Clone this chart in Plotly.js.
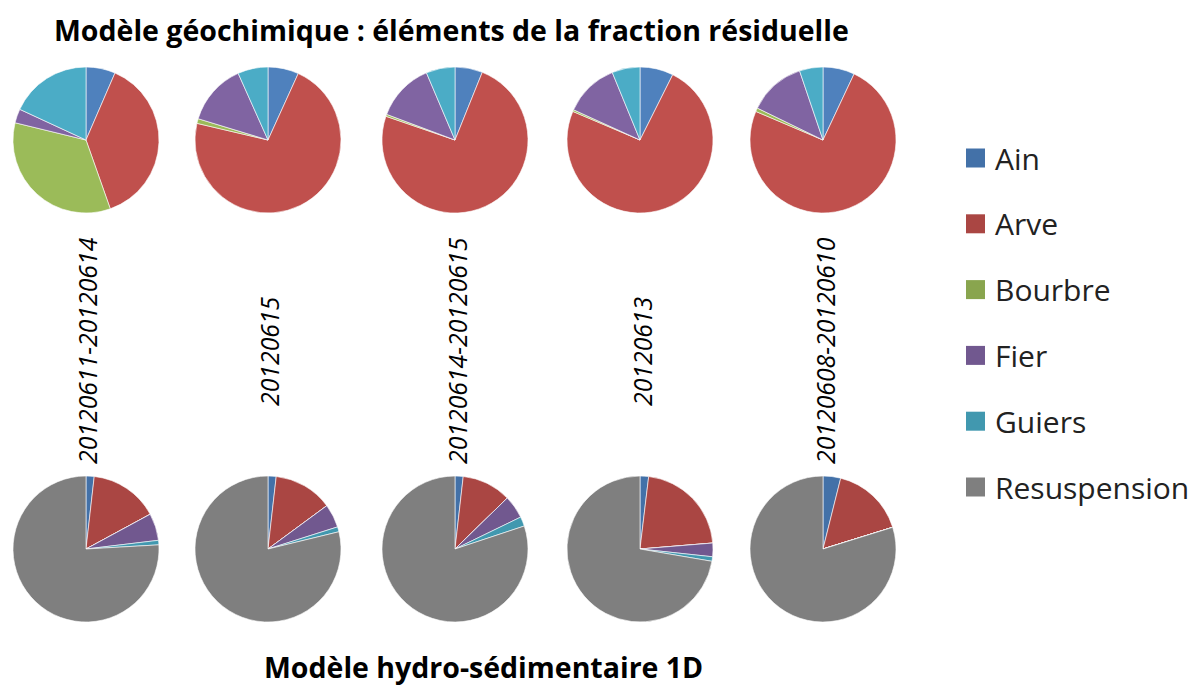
<!DOCTYPE html>
<html>
<head>
<meta charset="utf-8">
<script src="https://cdn.plot.ly/plotly-3.0.1.min.js"></script>
<style>html,body{margin:0;padding:0;background:#fff;}#chart{width:1197px;height:686px;}</style>
</head>
<body>
<div id="chart"></div>
<script>
// ---- Data ----
const dates = ['20120611-20120614', '20120615', '20120614-20120615', '20120613', '20120608-20120610'];
const geoLabels = ['Ain', 'Arve', 'Bourbre', 'Fier', 'Guiers'];
const hydLabels = ['Ain', 'Arve', 'Bourbre', 'Fier', 'Guiers', 'Resuspension'];

// Modèle géochimique (%)
const geoAin     = [6.5, 6.8, 6.1, 7.4, 7.0];
const geoArve    = [38.1, 71.9, 74.2, 74.0, 74.4];
const geoBourbre = [34.2, 1.05, 0.45, 0.4, 0.8];
const geoFier    = [3.1, 13.6, 12.9, 12.0, 12.6];
const geoGuiers  = [18.1, 6.7, 6.4, 6.2, 5.2];

// Modèle hydro-sédimentaire 1D (%)
const hydAin     = [1.8, 1.8, 1.8, 1.9, 3.9];
const hydArve    = [15.3, 13.1, 10.9, 21.8, 16.3];
const hydBourbre = [0, 0, 0, 0, 0];
const hydFier    = [6.0, 5.2, 5.1, 3.0, 0];
const hydGuiers  = [1.0, 1.1, 2.1, 1.0, 0];
const hydResusp  = [75.9, 78.8, 80.1, 72.3, 79.8];

const titleTop = 'Modèle géochimique : éléments de la fraction résiduelle';
const titleBottom = 'Modèle hydro-sédimentaire 1D';

// ---- Styles / layout ----
const W = 1197, H = 686;
const geoColors = ['#4F81BD', '#C0504D', '#9BBB59', '#8064A2', '#4BACC6'];
const hydColors = ['#4371A8', '#AA4643', '#89A54E', '#71588F', '#4198AF', '#7F7F7F'];
const centersX = [86, 268, 455, 640, 823];
const topY = 140, botY = 549, R = 73;

function domain(cx, cy) {
  return {
    x: [(cx - R) / W, (cx + R) / W],
    y: [(H - (cy + R)) / H, (H - (cy - R)) / H]
  };
}

const traces = [];
dates.forEach((d, i) => {
  traces.push({
    type: 'pie', name: d, sort: false, direction: 'clockwise', rotation: 0,
    labels: geoLabels,
    values: [geoAin[i], geoArve[i], geoBourbre[i], geoFier[i], geoGuiers[i]],
    marker: {colors: geoColors, line: {color: '#ffffff', width: 0.6}},
    textinfo: 'none', hoverinfo: 'label+percent',
    domain: domain(centersX[i], topY), showlegend: false
  });
  traces.push({
    type: 'pie', name: d, sort: false, direction: 'clockwise', rotation: 0,
    labels: hydLabels,
    values: [hydAin[i], hydArve[i], hydBourbre[i], hydFier[i], hydGuiers[i], hydResusp[i]],
    marker: {colors: hydColors, line: {color: '#ffffff', width: 0.6}},
    textinfo: 'none', hoverinfo: 'label+percent',
    domain: domain(centersX[i], botY), showlegend: false
  });
});

const annotations = [];
annotations.push({
  text: titleTop, xref: 'paper', yref: 'paper', x: 451 / W, y: 1 - 30 / H,
  showarrow: false, xanchor: 'center', yanchor: 'middle',
  font: {family: 'Open Sans', size: 28.5, color: '#000', weight: 'bold'}
});
annotations.push({
  text: titleBottom, xref: 'paper', yref: 'paper', x: 483 / W, y: 1 - 667 / H,
  showarrow: false, xanchor: 'center', yanchor: 'middle',
  font: {family: 'Open Sans', size: 28.5, color: '#000', weight: 'bold'}
});
const labelX = [87, 269, 457, 642, 825];
dates.forEach((d, i) => {
  annotations.push({
    text: d, xref: 'paper', yref: 'paper', x: labelX[i] / W, y: 1 - 351 / H,
    showarrow: false, textangle: -90, xanchor: 'center', yanchor: 'middle',
    font: {family: 'Open Sans', size: 24.8, color: '#000', style: 'italic'}
  });
});

// manual legend
const shapes = [];
hydLabels.forEach((lab, i) => {
  const cy = 158 + 65.8 * i;
  shapes.push({
    type: 'rect', xref: 'paper', yref: 'paper',
    x0: 966 / W, x1: 985 / W, y0: 1 - (cy + 9.5) / H, y1: 1 - (cy - 9.5) / H,
    fillcolor: hydColors[i], line: {width: 0}
  });
  annotations.push({
    text: lab, xref: 'paper', yref: 'paper', x: 993 / W, y: 1 - cy / H,
    showarrow: false, xanchor: 'left', yanchor: 'middle',
    font: {family: 'Open Sans', size: 30, color: '#222'}
  });
});

const layout = {
  width: W, height: H,
  margin: {l: 0, r: 0, t: 0, b: 0},
  paper_bgcolor: '#ffffff', plot_bgcolor: '#ffffff',
  showlegend: false,
  annotations: annotations,
  shapes: shapes
};

Plotly.newPlot('chart', traces, layout, {displayModeBar: false, staticPlot: false});
</script>
</body>
</html>
